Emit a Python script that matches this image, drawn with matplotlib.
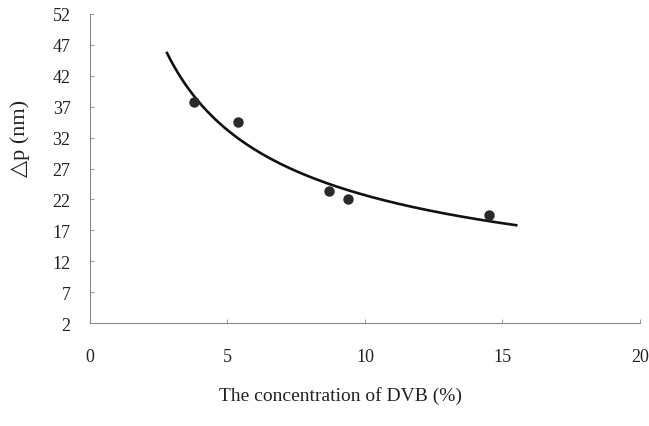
import numpy as np
import matplotlib
matplotlib.use("Agg")
import matplotlib.pyplot as plt

# DVB concentration (%) vs pore size difference (nm)
dvb = np.array([3.8, 5.4, 8.7, 9.4, 14.5])
dp = np.array([37.8, 34.6, 23.3, 22.0, 19.5])
fit_range = (2.8, 15.5)
xticks = [0, 5, 10, 15, 20]
yticks = [2, 7, 12, 17, 22, 27, 32, 37, 42, 47, 52]

plt.rcParams["font.family"] = ["Liberation Serif", "DejaVu Serif"]

fig = plt.figure(figsize=(6.49, 4.27), dpi=100)
ax = fig.add_axes([0.1387, 0.241, 0.8473, 0.724])

# power-law trend line fitted on the points
b, log_a = np.polyfit(np.log(dvb), np.log(dp), 1)
xs = np.linspace(*fit_range, 200)
ax.plot(xs, np.exp(log_a) * xs ** b, color="#111111", lw=1.9, zorder=2)
ax.plot(dvb, dp, "o", color="#2a2a2a", ms=6.5, zorder=3)

ax.set_xlim(0, 20)
ax.set_ylim(2, 52)
ax.set_xticks(xticks)
ax.set_yticks(yticks)
for s in ("top", "right"):
    ax.spines[s].set_visible(False)
for s in ("left", "bottom"):
    ax.spines[s].set_color("#888888")
    ax.spines[s].set_linewidth(0.8)
ax.tick_params(axis="both", direction="in", length=3, width=0.6, color="#888888",
               labelsize=13, labelcolor="#222222")
ax.tick_params(axis="x", pad=18)
ax.tick_params(axis="y", pad=14)

ax.set_xlabel("The concentration of DVB (%)", fontsize=14, color="#222222")
ax.xaxis.set_label_coords(0.455, -0.205)
ax.set_ylabel("△p (nm)", fontsize=16, color="#222222")
ax.yaxis.set_label_coords(-0.11, 0.6)

fig.savefig("out.png", dpi=100)
